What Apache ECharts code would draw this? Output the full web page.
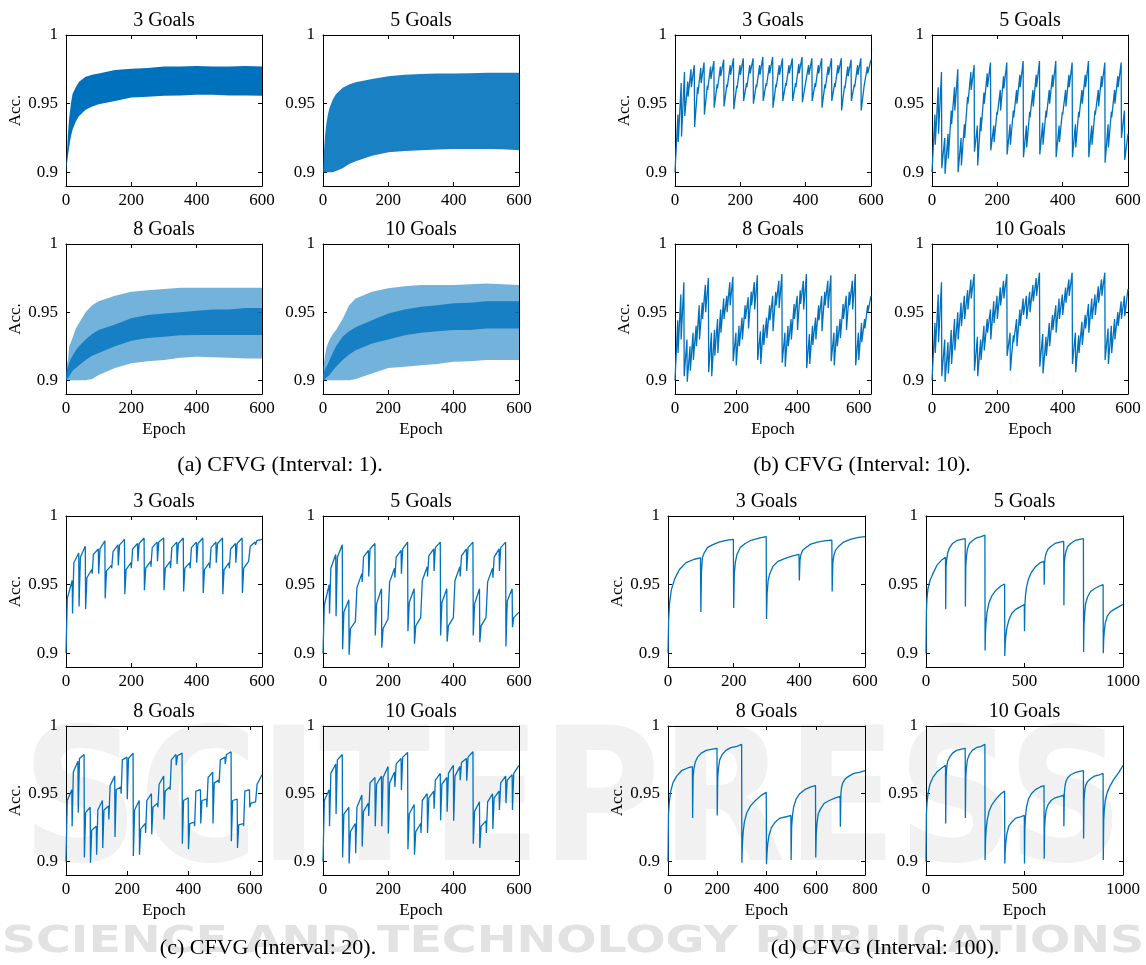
<!DOCTYPE html>
<html>
<head>
<meta charset="utf-8">
<script src="https://cdn.jsdelivr.net/npm/echarts@6/dist/echarts.min.js"></script>
<style>
  html, body { margin: 0; padding: 0; background: #fff; }
  #chart { width: 1146px; height: 965px; }
</style>
</head>
<body>
<div id="chart"></div>
<script>
// ---- (a) interval 1: the line flips every epoch, so it is read as envelopes ----
const aEpochs = [0, 3, 6, 10, 15, 20, 30, 40, 60, 80, 100, 150, 200, 250, 300, 350, 400, 450, 500, 550, 600];
const a3Hi = [0.900, 0.915, 0.928, 0.940, 0.950, 0.957, 0.962, 0.966, 0.9695, 0.971, 0.972, 0.9745, 0.9755, 0.976, 0.977, 0.977, 0.9775, 0.977, 0.977, 0.9775, 0.977];
const a3Lo = [0.900, 0.906, 0.912, 0.919, 0.926, 0.931, 0.937, 0.941, 0.9455, 0.948, 0.9495, 0.952, 0.9545, 0.955, 0.9557, 0.956, 0.9565, 0.9565, 0.956, 0.956, 0.9558];
const a5Hi = [0.900, 0.915, 0.926, 0.935, 0.942, 0.947, 0.953, 0.957, 0.9615, 0.964, 0.9655, 0.968, 0.970, 0.971, 0.9715, 0.972, 0.972, 0.9722, 0.9725, 0.9725, 0.9725];
const a5Lo = [0.900, 0.900, 0.900, 0.900, 0.900, 0.900, 0.900, 0.901, 0.903, 0.906, 0.908, 0.912, 0.9145, 0.9155, 0.916, 0.9165, 0.917, 0.917, 0.917, 0.9168, 0.916];
const a8Hi = [0.906, 0.912, 0.915, 0.925, 0.928, 0.931, 0.938, 0.942, 0.950, 0.955, 0.958, 0.962, 0.965, 0.966, 0.967, 0.968, 0.968, 0.968, 0.968, 0.968, 0.968];
const a8CoreHi = [0.903, 0.908, 0.910, 0.913, 0.916, 0.918, 0.922, 0.925, 0.930, 0.934, 0.937, 0.941, 0.9455, 0.948, 0.949, 0.950, 0.951, 0.952, 0.952, 0.953, 0.953];
const a8CoreLo = [0.900, 0.901, 0.902, 0.903, 0.905, 0.907, 0.909, 0.911, 0.915, 0.918, 0.920, 0.925, 0.929, 0.931, 0.932, 0.933, 0.9333, 0.9333, 0.9333, 0.9333, 0.9333];
const a8Lo = [0.900, 0.900, 0.900, 0.900, 0.900, 0.900, 0.900, 0.900, 0.900, 0.901, 0.904, 0.909, 0.9125, 0.914, 0.915, 0.9165, 0.9174, 0.917, 0.9165, 0.916, 0.916];
const a10Hi = [0.910, 0.912, 0.918, 0.9235, 0.927, 0.9297, 0.934, 0.937, 0.945, 0.955, 0.960, 0.965, 0.9676, 0.969, 0.970, 0.970, 0.970, 0.9705, 0.971, 0.9705, 0.970];
const a10CoreHi = [0.905, 0.906, 0.908, 0.910, 0.912, 0.915, 0.920, 0.925, 0.932, 0.936, 0.939, 0.944, 0.949, 0.952, 0.954, 0.955, 0.9566, 0.957, 0.958, 0.958, 0.958];
const a10CoreLo = [0.900, 0.900, 0.901, 0.902, 0.903, 0.904, 0.907, 0.910, 0.915, 0.919, 0.922, 0.927, 0.930, 0.933, 0.935, 0.936, 0.937, 0.937, 0.938, 0.938, 0.938];
const a10Lo = [0.900, 0.900, 0.900, 0.900, 0.900, 0.900, 0.900, 0.900, 0.900, 0.900, 0.901, 0.905, 0.909, 0.910, 0.911, 0.912, 0.9137, 0.914, 0.915, 0.915, 0.915];

// ---- (b) interval 10: [start, end] of each 10-epoch interval ----
const b3 = [
  [0.900,0.942],[0.922,0.965],[0.926,0.973],
  [0.941,0.966],[0.955,0.975],[0.962,0.978],
  [0.933,0.962],[0.957,0.976],[0.965,0.980],
  [0.942,0.963],[0.960,0.977],[0.968,0.981],
  [0.947,0.964],[0.961,0.977],[0.970,0.982],
  [0.948,0.964],[0.962,0.978],[0.971,0.983],
  [0.946,0.963],[0.961,0.978],[0.971,0.983],
  [0.952,0.965],[0.962,0.978],[0.972,0.983],
  [0.950,0.964],[0.962,0.978],[0.971,0.984],
  [0.952,0.965],[0.963,0.978],[0.972,0.984],
  [0.947,0.964],[0.962,0.978],[0.971,0.983],
  [0.952,0.965],[0.963,0.978],[0.972,0.983],
  [0.952,0.965],[0.962,0.979],[0.972,0.984],
  [0.951,0.964],[0.963,0.978],[0.971,0.983],
  [0.952,0.965],[0.962,0.978],[0.972,0.983],
  [0.947,0.964],[0.961,0.977],[0.971,0.983],
  [0.952,0.965],[0.962,0.978],[0.972,0.983],
  [0.945,0.963],[0.961,0.977],[0.970,0.982],
  [0.952,0.964],[0.962,0.978],[0.971,0.983],
  [0.945,0.963],[0.962,0.977],[0.972,0.982]
];
const b5 = [
  [0.900,0.942],[0.920,0.962],[0.928,0.973],
  [0.903,0.925],[0.899,0.928],[0.910,0.945],[0.935,0.962],[0.945,0.975],
  [0.900,0.925],[0.905,0.935],[0.925,0.955],[0.950,0.973],[0.960,0.978],
  [0.915,0.934],[0.905,0.940],[0.930,0.958],[0.950,0.972],[0.962,0.980],
  [0.916,0.934],[0.922,0.944],[0.942,0.960],[0.945,0.970],[0.961,0.980],
  [0.913,0.935],[0.920,0.945],[0.940,0.960],[0.950,0.971],[0.962,0.981],
  [0.911,0.934],[0.918,0.944],[0.940,0.960],[0.948,0.971],[0.962,0.981],
  [0.913,0.936],[0.920,0.945],[0.940,0.960],[0.950,0.971],[0.962,0.981],
  [0.911,0.934],[0.922,0.944],[0.942,0.960],[0.948,0.971],[0.962,0.980],
  [0.911,0.935],[0.918,0.944],[0.940,0.960],[0.950,0.971],[0.962,0.981],
  [0.911,0.934],[0.920,0.945],[0.942,0.960],[0.948,0.970],[0.962,0.980],
  [0.907,0.935],[0.918,0.944],[0.940,0.960],[0.950,0.970],[0.962,0.980],
  [0.925,0.945],[0.909,0.928]
];
const b8 = [
  [0.900,0.944],[0.920,0.963],[0.930,0.972],
  [0.903,0.930],[0.899,0.925],[0.907,0.935],[0.915,0.940],[0.925,0.955],[0.930,0.957],[0.945,0.970],[0.950,0.975],
  [0.906,0.935],[0.903,0.937],[0.918,0.945],[0.920,0.952],[0.935,0.960],[0.945,0.962],[0.950,0.972],[0.955,0.976],
  [0.914,0.935],[0.911,0.940],[0.925,0.946],[0.930,0.955],[0.945,0.961],[0.938,0.965],[0.955,0.972],[0.952,0.977],
  [0.915,0.936],[0.912,0.941],[0.926,0.946],[0.931,0.955],[0.944,0.962],[0.936,0.965],[0.955,0.973],[0.953,0.978],
  [0.913,0.935],[0.910,0.940],[0.925,0.945],[0.930,0.956],[0.945,0.962],[0.937,0.966],[0.956,0.973],[0.952,0.978],
  [0.909,0.934],[0.912,0.940],[0.926,0.946],[0.930,0.955],[0.944,0.962],[0.936,0.965],[0.955,0.973],[0.953,0.977],
  [0.914,0.935],[0.911,0.940],[0.925,0.945],[0.931,0.956],[0.945,0.962],[0.937,0.965],[0.955,0.973],[0.952,0.978],
  [0.911,0.935],[0.915,0.942],[0.928,0.945],[0.938,0.955],[0.950,0.962]
];
const b10 = [
  [0.900,0.942],[0.920,0.963],[0.928,0.972],
  [0.903,0.930],[0.899,0.928],[0.905,0.937],[0.912,0.945],[0.922,0.950],[0.930,0.957],[0.940,0.962],[0.945,0.966],[0.952,0.974],[0.960,0.978],
  [0.907,0.932],[0.903,0.930],[0.915,0.940],[0.922,0.945],[0.935,0.952],[0.930,0.958],[0.942,0.962],[0.945,0.968],[0.955,0.973],[0.960,0.978],
  [0.918,0.935],[0.907,0.933],[0.928,0.945],[0.925,0.952],[0.940,0.960],[0.948,0.962],[0.945,0.965],[0.950,0.970],[0.958,0.975],[0.962,0.979],
  [0.910,0.934],[0.905,0.932],[0.918,0.942],[0.925,0.948],[0.937,0.955],[0.935,0.960],[0.945,0.963],[0.948,0.968],[0.957,0.974],[0.962,0.979],
  [0.912,0.935],[0.906,0.933],[0.920,0.943],[0.926,0.948],[0.938,0.956],[0.935,0.960],[0.945,0.963],[0.948,0.969],[0.957,0.974],[0.962,0.979],
  [0.915,0.938],[0.912,0.940],[0.920,0.945],[0.930,0.950],[0.940,0.958],[0.945,0.962],[0.947,0.967]
];

// ---- (c) interval 20: [start, 4 epochs in, end] of each 20-epoch interval ----
const c3 = [
  [0.900,0.940,0.953],[0.929,0.966,0.973],[0.934,0.970,0.978],
  [0.932,0.955,0.961],[0.958,0.972,0.976],[0.958,0.976,0.982],
  [0.940,0.960,0.964],[0.962,0.974,0.979],[0.964,0.979,0.983],
  [0.943,0.961,0.966],[0.962,0.976,0.980],[0.967,0.980,0.984],
  [0.946,0.962,0.967],[0.963,0.977,0.981],[0.967,0.981,0.984],
  [0.946,0.962,0.967],[0.962,0.977,0.981],[0.965,0.980,0.984],
  [0.945,0.962,0.966],[0.962,0.977,0.981],[0.966,0.980,0.984],
  [0.944,0.961,0.966],[0.962,0.977,0.981],[0.966,0.980,0.984],
  [0.943,0.961,0.966],[0.962,0.976,0.980],[0.966,0.980,0.984],
  [0.944,0.962,0.967],[0.966,0.978,0.981],[0.979,0.982,0.983]
];
const c5 = [
  [0.900,0.935,0.950],[0.929,0.962,0.972],[0.927,0.970,0.979],
  [0.903,0.930,0.939],[0.899,0.918,0.923],[0.923,0.948,0.958],[0.952,0.970,0.975],[0.956,0.976,0.980],
  [0.913,0.936,0.947],[0.904,0.918,0.925],[0.925,0.952,0.962],[0.955,0.970,0.975],[0.958,0.976,0.981],
  [0.916,0.937,0.947],[0.907,0.920,0.926],[0.926,0.953,0.963],[0.956,0.971,0.976],[0.960,0.977,0.981],
  [0.913,0.937,0.947],[0.9085,0.920,0.926],[0.926,0.953,0.963],[0.956,0.971,0.976],[0.960,0.977,0.981],
  [0.913,0.936,0.947],[0.908,0.920,0.926],[0.925,0.952,0.962],[0.955,0.970,0.976],[0.960,0.977,0.981],
  [0.905,0.938,0.947],[0.919,0.926,0.930]
];
const c8 = [
  [0.900,0.945,0.953],[0.926,0.966,0.974],[0.936,0.976,0.979],
  [0.903,0.936,0.940],[0.899,0.923,0.926],[0.905,0.938,0.945],[0.910,0.938,0.941],
  [0.931,0.956,0.963],[0.918,0.953,0.955],[0.950,0.975,0.977],[0.946,0.976,0.980],
  [0.904,0.938,0.945],[0.905,0.924,0.928],[0.921,0.945,0.950],[0.920,0.940,0.943],
  [0.940,0.957,0.963],[0.931,0.952,0.955],[0.953,0.975,0.979],[0.971,0.978,0.980],
  [0.913,0.945,0.947],[0.909,0.928,0.929],[0.926,0.952,0.953],[0.928,0.945,0.946],
  [0.940,0.962,0.966],[0.928,0.958,0.960],[0.958,0.975,0.977],[0.972,0.979,0.981],
  [0.915,0.945,0.946],[0.910,0.927,0.928],[0.926,0.952,0.953],[0.940,0.943,0.944],
  [0.944,0.957,0.964]
];
const c10 = [
  [0.900,0.945,0.953],[0.926,0.965,0.972],[0.935,0.975,0.979],
  [0.903,0.935,0.940],[0.8985,0.922,0.928],[0.906,0.940,0.949],[0.911,0.937,0.943],
  [0.9335,0.958,0.962],[0.926,0.957,0.963],[0.926,0.962,0.970],[0.9207,0.958,0.966],
  [0.955,0.972,0.976],[0.9527,0.977,0.9805],
  [0.909,0.935,0.942],[0.905,0.922,0.928],[0.921,0.945,0.950],[0.921,0.947,0.952],
  [0.939,0.960,0.965],[0.9305,0.957,0.962],[0.9367,0.965,0.971],[0.930,0.963,0.970],
  [0.960,0.973,0.976],[0.9596,0.977,0.981],
  [0.913,0.937,0.944],[0.910,0.926,0.930],[0.921,0.944,0.950],[0.924,0.947,0.952],
  [0.938,0.958,0.963],[0.943,0.960,0.964],[0.938,0.965,0.971]
];

// ---- (d) interval 100: accuracy at 0,2,5,10,20,35,55,80,99 epochs into each interval ----
const d3 = [
  [0.900,0.925,0.937,0.946,0.954,0.961,0.966,0.9685,0.9695],
  [0.930,0.960,0.970,0.973,0.977,0.979,0.981,0.9825,0.983],
  [0.933,0.958,0.966,0.972,0.977,0.980,0.9825,0.984,0.985],
  [0.925,0.944,0.953,0.958,0.9635,0.967,0.969,0.971,0.972],
  [0.953,0.968,0.972,0.975,0.977,0.9795,0.981,0.982,0.9825],
  [0.945,0.966,0.971,0.975,0.978,0.981,0.983,0.9845,0.985]
];
const d5 = [
  [0.900,0.930,0.940,0.947,0.953,0.958,0.964,0.968,0.970],
  [0.932,0.963,0.968,0.973,0.977,0.980,0.982,0.983,0.9835],
  [0.934,0.963,0.970,0.976,0.980,0.982,0.984,0.985,0.986],
  [0.902,0.915,0.923,0.930,0.937,0.942,0.946,0.949,0.9505],
  [0.898,0.906,0.912,0.918,0.924,0.929,0.932,0.934,0.9355],
  [0.916,0.935,0.942,0.948,0.954,0.959,0.963,0.966,0.967],
  [0.950,0.966,0.970,0.973,0.976,0.978,0.980,0.981,0.9815],
  [0.935,0.965,0.970,0.974,0.978,0.980,0.982,0.983,0.9835],
  [0.901,0.920,0.928,0.936,0.941,0.945,0.947,0.949,0.950],
  [0.900,0.910,0.916,0.922,0.927,0.930,0.932,0.934,0.9355]
];
const d8 = [
  [0.900,0.935,0.943,0.951,0.958,0.963,0.967,0.969,0.970],
  [0.932,0.962,0.968,0.973,0.977,0.980,0.982,0.983,0.9835],
  [0.934,0.962,0.969,0.975,0.979,0.982,0.984,0.985,0.9865],
  [0.899,0.912,0.921,0.929,0.936,0.941,0.945,0.949,0.951],
  [0.898,0.906,0.913,0.919,0.925,0.929,0.932,0.933,0.934],
  [0.901,0.925,0.933,0.940,0.946,0.950,0.953,0.955,0.956],
  [0.903,0.920,0.928,0.935,0.939,0.943,0.945,0.947,0.948],
  [0.9256,0.950,0.955,0.958,0.961,0.963,0.965,0.966,0.967]
];
const d10 = [
  [0.900,0.935,0.943,0.950,0.957,0.962,0.966,0.969,0.971],
  [0.928,0.962,0.969,0.974,0.977,0.980,0.982,0.983,0.9835],
  [0.932,0.962,0.969,0.975,0.979,0.982,0.984,0.985,0.9865],
  [0.901,0.915,0.923,0.930,0.937,0.942,0.946,0.950,0.952],
  [0.8985,0.907,0.914,0.920,0.926,0.929,0.932,0.933,0.934],
  [0.8985,0.925,0.933,0.940,0.946,0.950,0.953,0.955,0.956],
  [0.902,0.925,0.932,0.938,0.942,0.945,0.947,0.948,0.949],
  [0.926,0.950,0.955,0.959,0.962,0.964,0.9655,0.9665,0.967],
  [0.917,0.945,0.951,0.956,0.959,0.961,0.963,0.964,0.965],
  [0.901,0.930,0.938,0.945,0.951,0.956,0.961,0.966,0.971]
];

const bOffsets = [0, 9];
const cOffsets = [0, 4, 19];
const dOffsets = [0, 2, 5, 10, 20, 35, 55, 80, 99];

const xTicks600 = [0, 200, 400, 600];
const xTicks800 = [0, 200, 400, 600, 800];
const xTicks1000 = [0, 500, 1000];
const yTicks = [0.9, 0.95, 1];
const goalTitles = ['3 Goals', '5 Goals', '8 Goals', '10 Goals'];
const captions = ['(a) CFVG (Interval: 1).', '(b) CFVG (Interval: 10).', '(c) CFVG (Interval: 20).', '(d) CFVG (Interval: 100).'];

const BLUE = '#0072BD';
const FONT = '"Liberation Serif", "Times New Roman", serif';

function steps(ivls, len, offs) {
  const pts = [];
  ivls.forEach((v, i) => {
    v.forEach((y, j) => {
      const last = i === ivls.length - 1 && j === v.length - 1;
      pts.push([last ? (i + 1) * len : i * len + offs[j], y]);
    });
  });
  return pts;
}

// filled envelope polygons, mapped through the grid's own axes
function bandSeries(xi, yi, layers) {
  return {
    type: 'custom', coordinateSystem: 'cartesian2d', xAxisIndex: xi, yAxisIndex: yi,
    data: [[0, 0.95]], silent: true, clip: true,
    renderItem: (params, api) => ({
      type: 'group',
      children: layers.map(L => {
        const top = aEpochs.map((e, i) => api.coord([e, L.hi[i]]));
        const bot = aEpochs.map((e, i) => api.coord([e, L.lo[i]])).reverse();
        return { type: 'polygon', shape: { points: top.concat(bot) }, style: { fill: BLUE, opacity: L.alpha } };
      })
    })
  };
}

const panels = [
  {
    cols: [[66, 262], [323, 519]], rows: [[35, 186], [244, 394]], cap: [280, 465],
    subs: [
      { xMax: 600, ticks: xTicks600, band: [{ lo: a3Lo, hi: a3Hi, alpha: 1 }] },
      { xMax: 600, ticks: xTicks600, band: [{ lo: a5Lo, hi: a5Hi, alpha: 0.9 }] },
      { xMax: 600, ticks: xTicks600, band: [{ lo: a8Lo, hi: a8Hi, alpha: 0.55 }, { lo: a8CoreLo, hi: a8CoreHi, alpha: 0.8 }] },
      { xMax: 600, ticks: xTicks600, band: [{ lo: a10Lo, hi: a10Hi, alpha: 0.55 }, { lo: a10CoreLo, hi: a10CoreHi, alpha: 0.8 }] }
    ]
  },
  {
    cols: [[675, 871], [932, 1128]], rows: [[35, 186], [244, 394]], cap: [862, 465],
    subs: [
      { xMax: 600, ticks: xTicks600, line: steps(b3, 10, bOffsets) },
      { xMax: 600, ticks: xTicks600, line: steps(b5, 10, bOffsets) },
      { xMax: 640, ticks: xTicks600, line: steps(b8, 10, bOffsets) },
      { xMax: 600, ticks: xTicks600, line: steps(b10, 10, bOffsets) }
    ]
  },
  {
    cols: [[66, 262], [323, 519]], rows: [[516, 667], [726, 875]], cap: [268, 948],
    subs: [
      { xMax: 600, ticks: xTicks600, line: steps(c3, 20, cOffsets) },
      { xMax: 600, ticks: xTicks600, line: steps(c5, 20, cOffsets) },
      { xMax: 640, ticks: xTicks600, line: steps(c8, 20, cOffsets) },
      { xMax: 600, ticks: xTicks600, line: steps(c10, 20, cOffsets) }
    ]
  },
  {
    cols: [[668, 865], [926, 1123]], rows: [[516, 667], [726, 875]], cap: [885, 948],
    subs: [
      { xMax: 600, ticks: xTicks600, line: steps(d3, 100, dOffsets) },
      { xMax: 1000, ticks: xTicks1000, line: steps(d5, 100, dOffsets) },
      { xMax: 800, ticks: xTicks800, line: steps(d8, 100, dOffsets) },
      { xMax: 1000, ticks: xTicks1000, line: steps(d10, 100, dOffsets) }
    ]
  }
];

const option = {
  animation: false,
  backgroundColor: '#fff',
  grid: [], xAxis: [], yAxis: [], series: [], graphic: []
};

// faint publisher watermark behind everything
option.graphic.push({
  type: 'text', x: 573, y: 812, scaleX: 0.88, z: -1, silent: true,
  style: { text: 'SCITEPRESS', font: 'bold 185px "DejaVu Sans"', fill: '#f1f1f1', align: 'center', verticalAlign: 'middle' }
});
option.graphic.push({
  type: 'text', x: 573, y: 942, scaleX: 1.25, z: -1, silent: true,
  style: { text: 'SCIENCE AND TECHNOLOGY PUBLICATIONS', font: 'bold 38px "DejaVu Sans"', fill: '#e2e2e2', align: 'center', verticalAlign: 'middle' }
});

const axisLine = { show: true, onZero: false, lineStyle: { color: '#000', width: 1 } };
const tick = vals => ({ show: true, inside: true, length: 4, customValues: vals, lineStyle: { color: '#000', width: 1 } });
const labelFont = { fontFamily: FONT, fontSize: 17, color: '#000', formatter: v => String(v) };

let g = 0;
panels.forEach((p, pi) => {
  p.subs.forEach((s, k) => {
    const col = p.cols[k % 2];
    const row = p.rows[k >> 1];
    const leftCol = k % 2 === 0;
    const bottomRow = k >= 2;

    option.grid.push({ left: col[0], top: row[0], width: col[1] - col[0], height: row[1] - row[0], outerBoundsMode: 'none' });

    option.xAxis.push({
      type: 'value', gridIndex: g, position: 'bottom', min: 0, max: s.xMax,
      axisLine, axisTick: tick(s.ticks), splitLine: { show: false },
      axisLabel: Object.assign({ customValues: s.ticks, margin: 6 }, labelFont),
      name: bottomRow ? 'Epoch' : '', nameLocation: 'middle', nameGap: 27,
      nameTextStyle: { fontFamily: FONT, fontSize: 17, color: '#000' }
    });
    option.xAxis.push({
      type: 'value', gridIndex: g, position: 'top', min: 0, max: s.xMax,
      axisLine, axisTick: tick(s.ticks), axisLabel: { show: false }, splitLine: { show: false }
    });
    option.yAxis.push({
      type: 'value', gridIndex: g, position: 'left', min: 0.89, max: 1,
      axisLine, axisTick: tick(yTicks), splitLine: { show: false },
      axisLabel: Object.assign({ customValues: yTicks, margin: 8 }, labelFont),
      name: leftCol ? 'Acc.' : '', nameLocation: 'middle', nameGap: 31,
      nameTextStyle: { fontFamily: FONT, fontSize: 17, color: '#000' }
    });
    option.yAxis.push({
      type: 'value', gridIndex: g, position: 'right', min: 0.89, max: 1,
      axisLine, axisTick: tick(yTicks), axisLabel: { show: false }, splitLine: { show: false }
    });

    const xi = 2 * g, yi = 2 * g;
    if (s.band) {
      option.series.push(bandSeries(xi, yi, s.band));
    } else {
      option.series.push({
        type: 'line', xAxisIndex: xi, yAxisIndex: yi, data: s.line,
        symbol: 'none', silent: true,
        lineStyle: { color: BLUE, width: 1.3 }
      });
    }

    option.graphic.push({
      type: 'text', x: (col[0] + col[1]) / 2, y: row[0] - 14, silent: true,
      style: { text: goalTitles[k], font: '20px ' + FONT, fill: '#000', align: 'center', verticalAlign: 'middle' }
    });
    g++;
  });

  option.graphic.push({
    type: 'text', x: p.cap[0], y: p.cap[1], silent: true,
    style: { text: captions[pi], font: '22px ' + FONT, fill: '#000', align: 'center', verticalAlign: 'middle' }
  });
});

const chart = echarts.init(document.getElementById('chart'), null, { renderer: 'canvas' });
chart.setOption(option);
</script>
</body>
</html>
